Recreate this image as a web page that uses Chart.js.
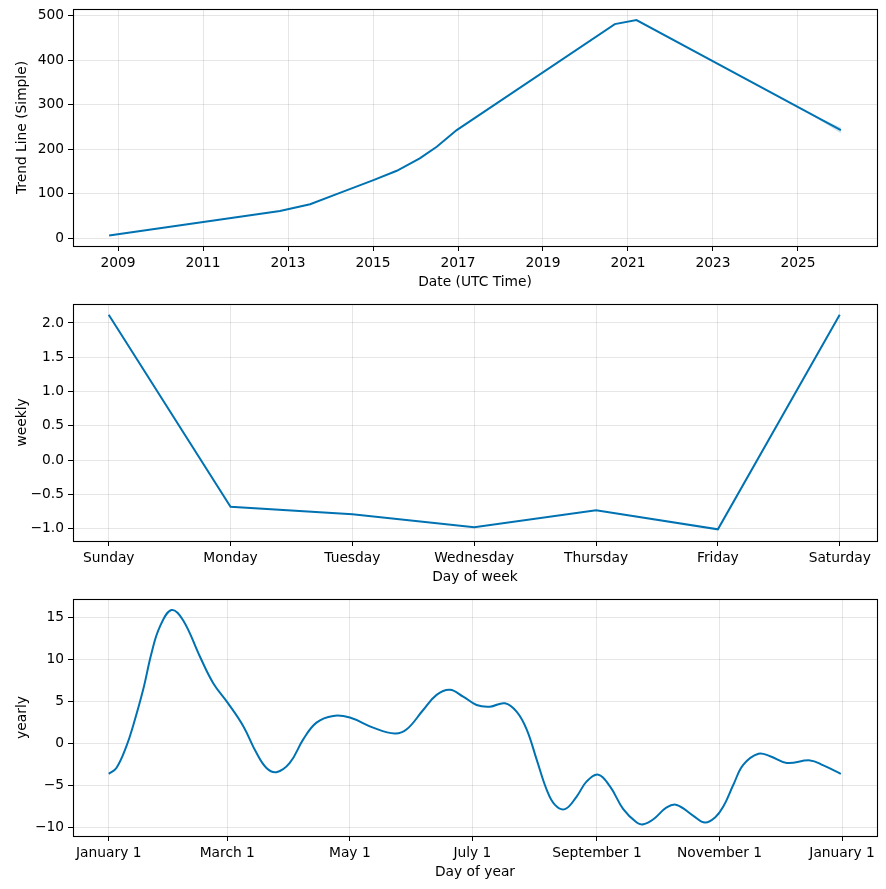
<!DOCTYPE html>
<html>
<head>
<meta charset="utf-8">
<script src="https://cdn.jsdelivr.net/npm/chart.js@4.4.0/dist/chart.umd.min.js"></script>
<style>
  body { margin: 0; background: #fff; }
  .box { position: relative; width: 886px; height: 295px; }
  .box.last { height: 299px; }
</style>
</head>
<body>
<div class="box"><canvas id="trendChart"></canvas></div>
<div class="box"><canvas id="weeklyChart"></canvas></div>
<div class="box last"><canvas id="yearlyChart"></canvas></div>
<script>
// trend component (decimal years)
var trendYears  = [2008.79, 2012.81, 2013.52, 2014.22, 2015.01, 2015.56, 2016.1, 2016.5, 2016.97, 2020.69, 2021.2, 2026.01];
var trendValues = [6.5, 61.5, 76.6, 102, 130.6, 151.6, 179.5, 205.6, 243, 481, 490, 243];
var bandYears = [2025.0, 2025.5, 2026.01];
var bandUpper = [295, 271, 249];
var bandLower = [295, 266, 236];
var yearTicks = [2009, 2011, 2013, 2015, 2017, 2019, 2021, 2023, 2025];
var trendTicks = [0, 100, 200, 300, 400, 500];

// weekly component
var weekDays = ["Sunday", "Monday", "Tuesday", "Wednesday", "Thursday", "Friday", "Saturday"];
var weeklyValues = [2.12, -0.68, -0.79, -0.98, -0.73, -1.01, 2.12];
var weeklyTicks = [-1.0, -0.5, 0.0, 0.5, 1.0, 1.5, 2.0];

// yearly component (day of year)
var yearDays = [0, 3.8, 8.8, 12.1, 17.1, 21.3, 25.4, 31.2, 37, 45.3, 52, 59.4, 66.9, 73.5, 78.5, 83.5, 90.1,
  96.8, 103.4, 111.7, 120, 131.6, 142.4, 148.3, 156.5, 163.2, 169.8, 176.4, 183.1, 189.7, 197.2, 203, 208,
  213, 218, 222.1, 227.1, 232.9, 237.9, 243.7, 249.5, 256.1, 262.8, 266.1, 271.1, 277.7, 282.7, 291, 296.8,
  301.8, 305.9, 310.9, 315.9, 323.4, 329.2, 337.5, 349.1, 355.7, 364.4];
var yearlyValues = [-3.6, -2.9, -0.3, 2.1, 6.4, 10.8, 13.9, 15.9, 14.7, 10.4, 7.2, 4.8, 2.1, -1.1, -2.9, -3.4, -2.3,
  0.5, 2.5, 3.3, 3.1, 1.9, 1.2, 1.7, 4.0, 5.8, 6.4, 5.6, 4.6, 4.4, 4.8, 3.8, 1.7,
  -1.9, -5.5, -7.3, -7.8, -6.3, -4.5, -3.7, -5.1, -7.8, -9.4, -9.6, -9.0, -7.6, -7.3, -8.6, -9.4,
  -8.8, -7.5, -4.9, -2.5, -1.2, -1.5, -2.3, -2.0, -2.6, -3.6];
var monthTickDays = [0, 59, 120, 181, 243, 304, 365];
var monthTickLabels = ["January 1", "March 1", "May 1", "July 1", "September 1", "November 1", "January 1"];
var yearlyTicks = [-10, -5, 0, 5, 10, 15];

var lineColor = '#0072B2';
var font = { family: 'DejaVu Sans', size: 13.8 };
Chart.defaults.color = '#000';

function minus(s) { return String(s).replace('-', '\u2212'); }
function pts(xs, ys) { return xs.map(function (x, i) { return { x: x, y: ys[i] }; }); }

var frame = {
  id: 'frame',
  afterDraw: function (chart) {
    var a = chart.chartArea, ctx = chart.ctx;
    ctx.save();
    ctx.strokeStyle = '#000';
    ctx.lineWidth = 1.1;
    ctx.strokeRect(Math.round(a.left) + 0.5, Math.round(a.top) + 0.5, Math.round(a.right - a.left), Math.round(a.bottom - a.top));
    ctx.restore();
  }
};

function axis(min, max, tickVals, fmt, title, horizontal) {
  return {
    type: 'linear',
    min: min,
    max: max,
    afterBuildTicks: function (s) { s.ticks = tickVals.map(function (v) { return { value: v }; }); },
    afterFit: function (s) {
      if (horizontal) { s.height = 49; s.paddingLeft = 0; s.paddingRight = 0; }
      else { s.width = 73; s.paddingTop = 0; s.paddingBottom = 0; }
    },
    ticks: { font: font, padding: 4, maxRotation: 0, autoSkip: false, callback: fmt },
    grid: { color: 'rgba(128,128,128,0.2)', lineWidth: 1, tickColor: '#000', tickLength: 5 },
    border: { display: false },
    title: { display: true, text: title, font: font, padding: horizontal ? { top: 0, bottom: 4 } : { top: 14, bottom: 0 } }
  };
}

function makeChart(id, datasets, xScale, yScale, padBottom) {
  return new Chart(document.getElementById(id), {
    type: 'line',
    data: { datasets: datasets },
    options: {
      responsive: true,
      maintainAspectRatio: false,
      animation: false,
      layout: { padding: { top: 9, right: 9, left: 0, bottom: padBottom } },
      plugins: { legend: { display: false }, tooltip: { enabled: false } },
      scales: { x: xScale, y: yScale }
    },
    plugins: [frame]
  });
}

makeChart('trendChart', [
  { data: pts(trendYears, trendValues), borderColor: lineColor, borderWidth: 2, pointRadius: 0, tension: 0 },
  { data: pts(bandYears, bandUpper), borderWidth: 0, pointRadius: 0, fill: '+1', backgroundColor: 'rgba(0,114,178,0.2)' },
  { data: pts(bandYears, bandLower), borderWidth: 0, pointRadius: 0, fill: false }
],
  axis(2007.94, 2026.86, yearTicks, function (v) { return String(v); }, 'Date (UTC Time)', true),
  axis(-17.3, 515, trendTicks, function (v) { return minus(v); }, 'Trend Line (Simple)', false), 0);

makeChart('weeklyChart', [
  { data: pts([0, 1, 2, 3, 4, 5, 6], weeklyValues), borderColor: lineColor, borderWidth: 2, pointRadius: 0, tension: 0 }
],
  axis(-0.293, 6.306, [0, 1, 2, 3, 4, 5, 6], function (v) { return weekDays[Math.round(v)]; }, 'Day of week', true),
  axis(-1.18, 2.277, weeklyTicks, function (v) { return minus(v.toFixed(1)); }, 'weekly', false), 0);

makeChart('yearlyChart', [
  { data: pts(yearDays, yearlyValues), borderColor: lineColor, borderWidth: 2, pointRadius: 0, tension: 0.4 }
],
  axis(-17.8, 382.4, monthTickDays, function (v) { return monthTickLabels[monthTickDays.indexOf(v)]; }, 'Day of year', true),
  axis(-11.0, 17.22, yearlyTicks, function (v) { return minus(v); }, 'yearly', false), 4);
</script>
</body>
</html>
